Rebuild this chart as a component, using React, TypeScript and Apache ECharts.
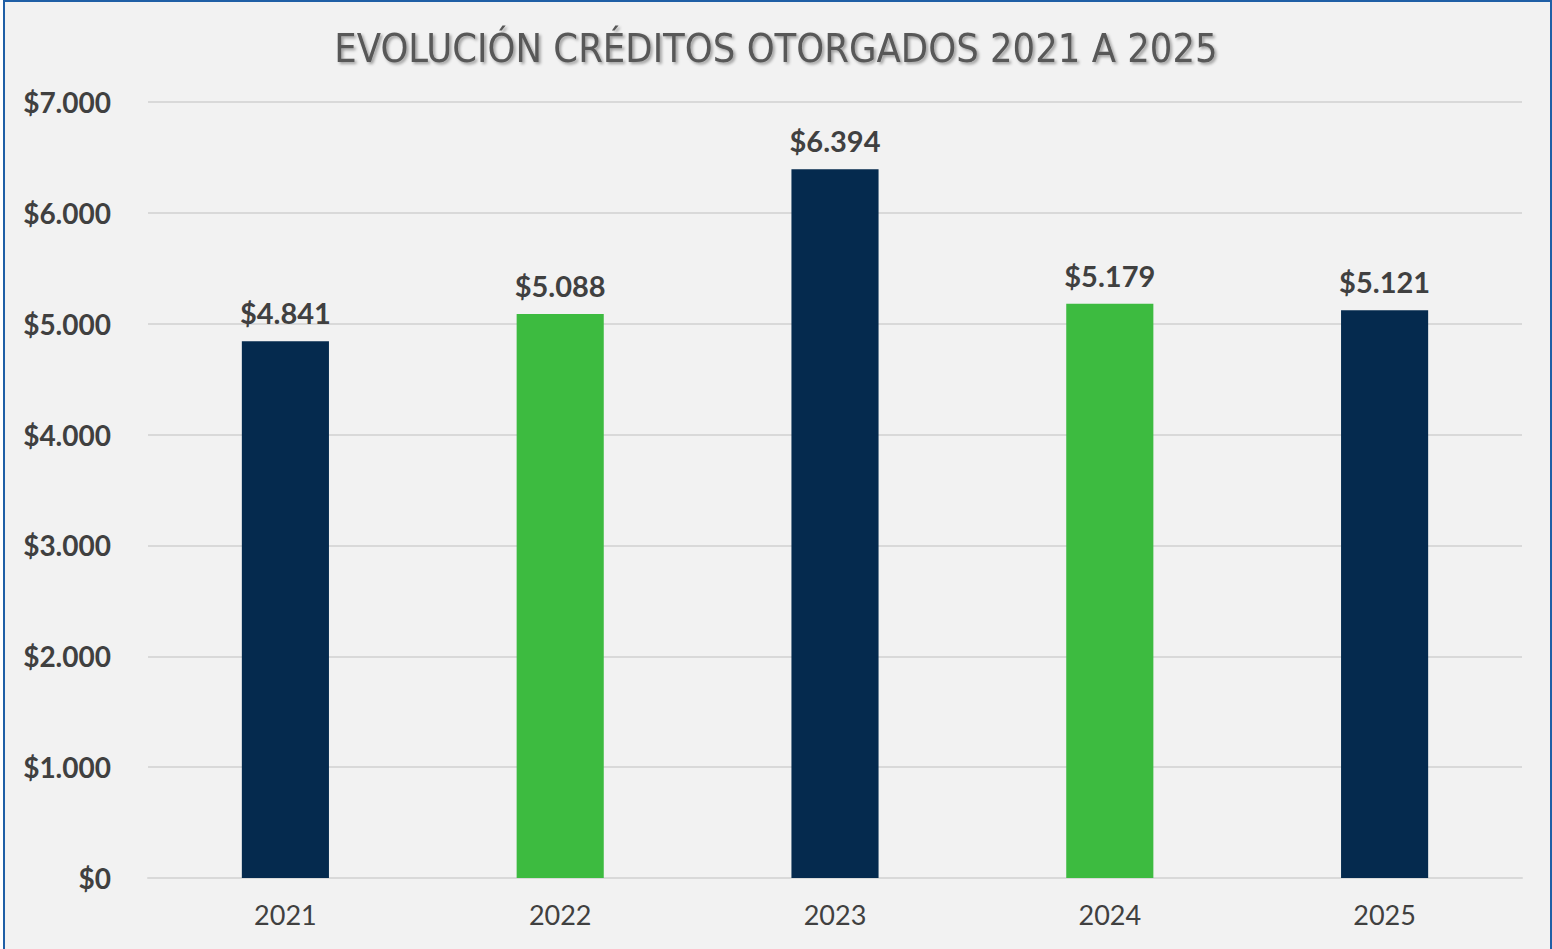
import React, { useEffect, useRef } from "react";
import * as echarts from "echarts";

const categories = ["2021", "2022", "2023", "2024", "2025"];
const values = [4841, 5088, 6394, 5179, 5121];
const barColors = ["#052a4e", "#3dbb40", "#052a4e", "#3dbb40", "#052a4e"];
const yTicks = [0, 1000, 2000, 3000, 4000, 5000, 6000, 7000];
const titleText = "EVOLUCIÓN CRÉDITOS OTORGADOS 2021 A 2025";

const fmt = (v: number) => {
  const s = Math.round(v).toString();
  return "$" + s.replace(/\B(?=(\d{3})+(?!\d))/g, ".");
};

export default function App() {
  const ref = useRef<HTMLDivElement>(null);
  useEffect(() => {
    if (!ref.current) return;
    const chart = echarts.init(ref.current, undefined, { renderer: "svg" });
    chart.setOption({
      animation: false,
      backgroundColor: "transparent",
      title: {
        text: titleText,
        left: "center",
        top: 23,
        textStyle: {
          fontFamily: "DejaVu Sans Condensed",
          fontWeight: "normal",
          fontSize: 39.5,
          color: "#595959",
          textShadowColor: "rgba(0,0,0,0.35)",
          textShadowBlur: 3,
          textShadowOffsetX: 2,
          textShadowOffsetY: 2,
        },
      },
      grid: { left: 148, right: 30, top: 102, bottom: 71, containLabel: false },
      xAxis: {
        type: "category",
        data: categories,
        axisLine: { show: true, lineStyle: { color: "#d9d9d9", width: 2 } },
        axisTick: { show: false },
        axisLabel: {
          color: "#404040",
          fontFamily: "Lato",
          fontSize: 27,
          margin: 23,
        },
      },
      yAxis: {
        type: "value",
        min: yTicks[0],
        max: yTicks[yTicks.length - 1],
        interval: 1000,
        axisLine: { show: false },
        axisTick: { show: false },
        splitLine: { lineStyle: { color: "#d9d9d9", width: 2 } },
        axisLabel: {
          color: "#404040",
          fontFamily: "Lato",
          fontWeight: "bold",
          fontSize: 28,
          margin: 37,
          formatter: (v: number) => fmt(v),
        },
      },
      series: [
        {
          type: "bar",
          barWidth: "31.7%",
          data: values.map((v, i) => ({ value: v, itemStyle: { color: barColors[i] } })),
          label: {
            show: true,
            position: "top",
            distance: 14,
            color: "#404040",
            fontFamily: "Lato",
            fontWeight: "bold",
            fontSize: 29,
            formatter: (p: any) => fmt(p.value),
          },
        },
      ],
    });
    return () => chart.dispose();
  }, []);
  return (
    <div style={{ position: "absolute", left: 0, top: 0, width: 1552, height: 949, overflow: "hidden", background: "#ffffff" }}>
      <div
        style={{
          position: "absolute",
          left: 3,
          top: 0,
          width: 1549,
          height: 970,
          boxSizing: "border-box",
          border: "2px solid #1f5fa6",
          background: "#f2f2f2",
        }}
      />
      <div ref={ref} style={{ position: "absolute", left: 0, top: 0, width: 1552, height: 949 }} />
    </div>
  );
}
